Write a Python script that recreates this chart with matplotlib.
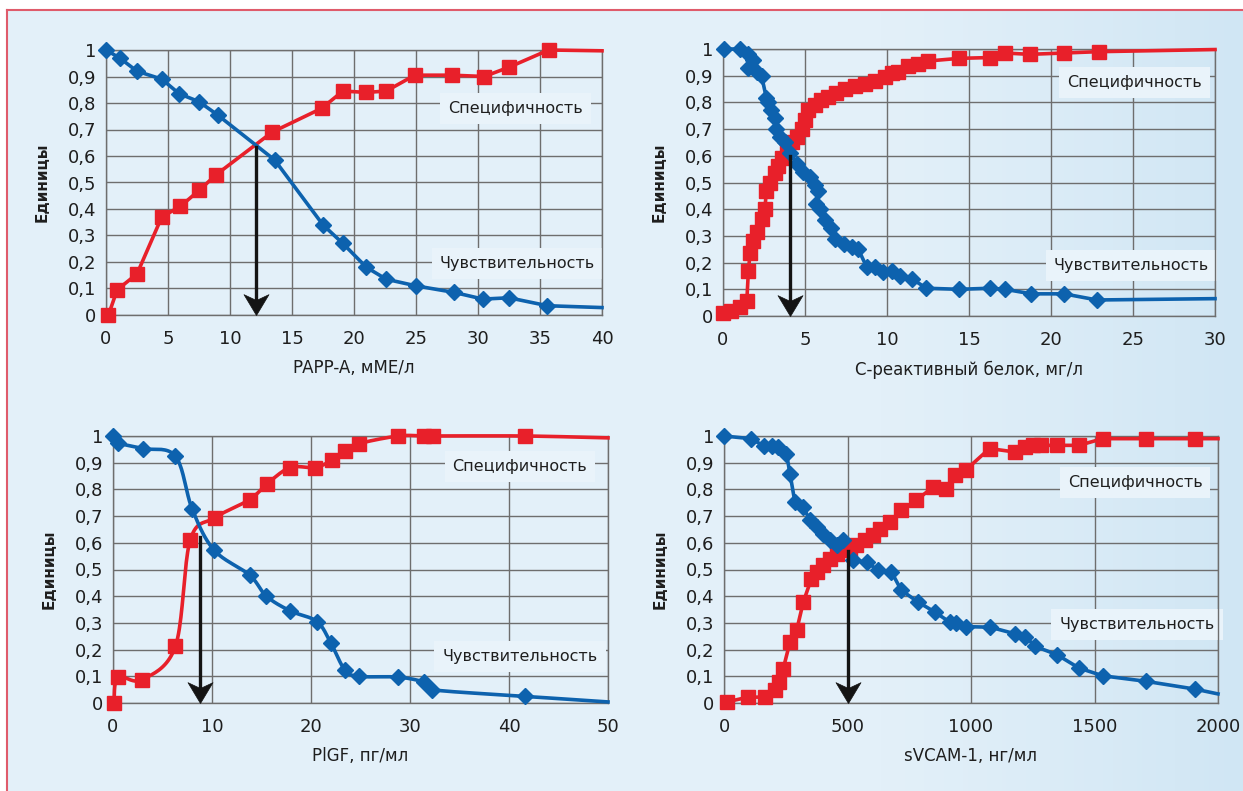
import numpy as np
import matplotlib
matplotlib.use('Agg')
import matplotlib.pyplot as plt
from matplotlib.lines import Line2D
from matplotlib.path import Path
from matplotlib.colors import LinearSegmentedColormap

# PAPP-A
papp_x_sens = [0, 1.1, 2.5, 4.5, 5.9, 7.5, 9.0, 13.6, 17.5, 19.1, 21.0, 22.6, 25.0, 28.1, 30.4, 32.5, 35.6, 40]
papp_sens = [1.0, 0.97, 0.92, 0.89, 0.835, 0.805, 0.755, 0.585, 0.34, 0.27, 0.18, 0.135, 0.11, 0.085, 0.06, 0.065, 0.035, 0.028]
papp_x_spec = [0.2, 0.9, 2.5, 4.5, 6.0, 7.5, 8.9, 13.4, 17.4, 19.1, 21.0, 22.6, 24.9, 27.9, 30.5, 32.5, 35.7, 40]
papp_spec = [0.0, 0.095, 0.155, 0.37, 0.41, 0.47, 0.53, 0.69, 0.78, 0.845, 0.84, 0.845, 0.905, 0.905, 0.9, 0.935, 1.0, 0.997]

# C-reactive protein
crp_x_sens = [0.05, 1.05, 1.5, 1.8, 1.55, 2.05, 2.35, 2.65, 2.75, 2.95, 3.15, 3.25, 3.5, 3.8, 4.1, 4.5,
              4.9, 5.3, 5.6, 5.8, 5.7, 5.9, 6.2, 6.6, 6.8, 7.35, 7.85, 8.25, 8.75, 9.25, 9.75, 10.3,
              10.8, 11.5, 12.4, 14.4, 16.3, 17.2, 18.8, 20.8, 22.8, 30]
crp_sens = [1.0, 1.0, 0.98, 0.96, 0.93, 0.915, 0.9, 0.815, 0.8, 0.77, 0.74, 0.7, 0.67, 0.65, 0.61, 0.57,
            0.54, 0.52, 0.49, 0.47, 0.42, 0.4, 0.36, 0.33, 0.29, 0.27, 0.26, 0.25, 0.185, 0.185, 0.165, 0.17,
            0.148, 0.14, 0.104, 0.1, 0.104, 0.1, 0.083, 0.083, 0.06, 0.065]
crp_x_spec = [0.0, 0.5, 1.05, 1.45, 1.55, 1.65, 1.85, 2.05, 2.35, 2.55, 2.65, 2.85, 3.15, 3.35, 3.6, 3.9,
              4.2, 4.5, 4.8, 5.0, 5.2, 5.6, 6.0, 6.4, 6.9, 7.45, 8.05, 8.65, 9.25, 9.9, 10.3, 10.7,
              11.3, 11.9, 12.5, 14.4, 16.3, 17.2, 18.7, 20.8, 22.9, 30]
crp_spec = [0.01, 0.02, 0.035, 0.055, 0.17, 0.235, 0.28, 0.315, 0.365, 0.4, 0.47, 0.5, 0.535, 0.56, 0.59, 0.62,
            0.65, 0.67, 0.7, 0.735, 0.77, 0.79, 0.81, 0.82, 0.835, 0.85, 0.86, 0.87, 0.88, 0.895, 0.91, 0.915,
            0.935, 0.945, 0.955, 0.965, 0.968, 0.985, 0.98, 0.985, 0.99, 0.998]

# PlGF
plgf_x_sens = [0, 0.5, 3.0, 6.3, 8.0, 10.2, 13.8, 15.5, 17.9, 20.6, 22.0, 23.4, 24.8, 28.8, 31.4, 32.2, 41.6, 50]
plgf_sens = [1.0, 0.975, 0.953, 0.925, 0.726, 0.573, 0.479, 0.4, 0.345, 0.305, 0.225, 0.125, 0.1, 0.097, 0.078, 0.05, 0.025, 0.004]
plgf_x_spec = [0.1, 0.5, 2.9, 6.3, 7.8, 10.3, 13.8, 15.6, 17.9, 20.4, 22.1, 23.4, 24.8, 28.8, 31.4, 32.3, 41.6, 50]
plgf_spec = [0.0, 0.097, 0.087, 0.212, 0.61, 0.694, 0.762, 0.822, 0.882, 0.882, 0.909, 0.944, 0.971, 1.0, 1.0, 1.0, 1.0, 0.993]

# sVCAM-1
svcam_x_sens = [0, 108, 162, 193, 220, 253, 267, 287, 321, 348, 375, 402, 429, 456, 482, 523, 577, 624, 678, 718,
                786, 853, 914, 941, 978, 1078, 1179, 1220, 1260, 1348, 1437, 1533, 1710, 1907, 2000]
svcam_sens = [1.0, 0.99, 0.963, 0.963, 0.959, 0.934, 0.859, 0.753, 0.734, 0.684, 0.659, 0.634, 0.609, 0.59, 0.609,
              0.534, 0.528, 0.497, 0.491, 0.422, 0.378, 0.341, 0.303, 0.3, 0.286, 0.284, 0.259, 0.249, 0.212,
              0.181, 0.131, 0.102, 0.081, 0.052, 0.034]
svcam_x_spec = [11, 98, 166, 206, 224, 240, 267, 294, 321, 354, 375, 402, 429, 456, 482, 509, 536, 570, 604, 631,
                671, 718, 779, 846, 900, 934, 978, 1075, 1179, 1220, 1252, 1284, 1348, 1437, 1533, 1710, 1907, 2000]
svcam_spec = [0.004, 0.022, 0.022, 0.047, 0.079, 0.129, 0.228, 0.272, 0.378, 0.466, 0.49, 0.516, 0.54, 0.559,
              0.572, 0.578, 0.59, 0.609, 0.628, 0.653, 0.678, 0.722, 0.759, 0.809, 0.803, 0.853, 0.872, 0.953,
              0.94, 0.959, 0.965, 0.965, 0.965, 0.965, 0.99, 0.99, 0.99, 0.99]

y_ticks = [0, 0.1, 0.2, 0.3, 0.4, 0.5, 0.6, 0.7, 0.8, 0.9, 1]
y_labels = ['0', '0,1', '0,2', '0,3', '0,4', '0,5', '0,6', '0,7', '0,8', '0,9', '1']

BLUE = '#0d62ae'
RED = '#e8202a'
GRID = '#6e6e6e'

# notched arrow head, tip at the marker origin
ARROW_HEAD = Path([(0, 0), (-0.6, 1.0), (0, 0.72), (0.6, 1.0), (0, 0)],
                  [Path.MOVETO, Path.LINETO, Path.LINETO, Path.LINETO, Path.CLOSEPOLY])


def catmull_rom(x, y, n=20):
    # smooth line through the points (like Excel "smoothed line")
    p = np.column_stack([x, y]).astype(float)
    p = np.vstack([p[0], p, p[-1]])
    out = []
    t = np.linspace(0, 1, n, endpoint=False)[:, None]
    for i in range(1, len(p) - 2):
        p0, p1, p2, p3 = p[i - 1], p[i], p[i + 1], p[i + 2]
        seg = 0.5 * ((2 * p1) + (-p0 + p2) * t + (2 * p0 - 5 * p1 + 4 * p2 - p3) * t ** 2
                     + (-p0 + 3 * p1 - 3 * p2 + p3) * t ** 3)
        out.append(seg)
    out.append(p[-2][None, :])
    out = np.vstack(out)
    return out[:, 0], out[:, 1]


def draw_panel(ax, xs, sens, xp, spec, xmax, xstep, xlabel, cut, cut_y,
               spec_pos, sens_pos, smooth=False):
    ax.set_facecolor('none')
    ax.set_xlim(0, xmax)
    ax.set_ylim(0, 1)
    ax.set_xticks(np.arange(0, xmax + xstep / 2, xstep))
    ax.set_yticks(y_ticks)
    ax.set_yticklabels(y_labels)
    ax.grid(True, color=GRID, lw=1.0, zorder=0)
    ax.set_axisbelow(True)
    for s in ax.spines.values():
        s.set_color(GRID)
        s.set_linewidth(1.0)
    ax.tick_params(length=0, labelsize=13, colors='#1e1e1e')
    ax.tick_params(axis='x', pad=11)
    ax.tick_params(axis='y', pad=7)
    ax.set_xlabel(xlabel, fontsize=12, color='#1e1e1e', labelpad=8)
    ax.set_ylabel('Единицы', fontsize=11, fontweight='bold', color='#1e1e1e', labelpad=13)

    box = dict(boxstyle='square,pad=0.5', fc='#e9f3fa', ec='none')
    ax.text(spec_pos[0], spec_pos[1], 'Специфичность', fontsize=11.5, ha='center', va='center',
            color='#1e1e1e', bbox=box, zorder=2)
    ax.text(sens_pos[0], sens_pos[1], 'Чувствительность', fontsize=11.5, ha='center', va='center',
            color='#1e1e1e', bbox=box, zorder=2)

    for x, y, col, mk, ms in [(xp, spec, RED, 's', 10), (xs, sens, BLUE, 'D', 8)]:
        if smooth:
            sx, sy = catmull_rom(x, y)
        else:
            sx, sy = x, y
        ax.plot(sx, sy, color=col, lw=2.6, zorder=3, clip_on=False, solid_joinstyle='round')
        ax.plot(x[:-1], y[:-1], ls='none', marker=mk, ms=ms, color=col, mec=col, zorder=4, clip_on=False)

    # cut-off arrow
    ax.plot([cut, cut], [cut_y, 0.04], color='#141414', lw=2.4, zorder=5)
    ax.plot([cut], [0], ls='none', marker=ARROW_HEAD, ms=30, color='#141414', mec='#141414',
            mew=0.5, zorder=5, clip_on=False)


fig = plt.figure(figsize=(12.43, 7.91), dpi=100, facecolor='white')

# light blue gradient background with pink frame lines
bg = fig.add_axes([7 / 1243, 0, 1 - 7 / 1243, 1 - 10 / 791], zorder=-10)
gx = np.linspace(0, 1, 256)
grad = np.tile(gx ** 2, (16, 1))
cmap = LinearSegmentedColormap.from_list('bg', ['#e3f0f9', '#e3f0f9', '#d0e6f4'])
bg.imshow(grad, aspect='auto', cmap=cmap, extent=[0, 1, 0, 1])
bg.set_axis_off()
fig.add_artist(Line2D([7 / 1243, 1], [1 - 10 / 791, 1 - 10 / 791], color='#df5b6b', lw=1.5))
fig.add_artist(Line2D([7 / 1243, 7 / 1243], [0, 1 - 10 / 791], color='#df5b6b', lw=1.5))

ax1 = fig.add_axes([106 / 1243, 1 - 315 / 791, 496 / 1243, 265 / 791])
ax2 = fig.add_axes([723 / 1243, 1 - 316 / 791, 492 / 1243, 267 / 791])
ax3 = fig.add_axes([113 / 1243, 1 - 703 / 791, 495 / 1243, 267 / 791])
ax4 = fig.add_axes([724 / 1243, 1 - 703 / 791, 494 / 1243, 267 / 791])

draw_panel(ax1, papp_x_sens, papp_sens, papp_x_spec, papp_spec, 40, 5, 'PAPP-A, мМЕ/л',
           12.1, 0.635, (33.0, 0.78), (33.2, 0.196))
draw_panel(ax2, crp_x_sens, crp_sens, crp_x_spec, crp_spec, 30, 5, 'С-реактивный белок, мг/л',
           4.1, 0.6, (25.1, 0.876), (24.9, 0.19))
draw_panel(ax3, plgf_x_sens, plgf_sens, plgf_x_spec, plgf_spec, 50, 10, 'PlGF, пг/мл',
           8.8, 0.62, (41.1, 0.887), (41.1, 0.173), smooth=True)
draw_panel(ax4, svcam_x_sens, svcam_sens, svcam_x_spec, svcam_spec, 2000, 500, 'sVCAM-1, нг/мл',
           500, 0.57, (1664, 0.827), (1672, 0.293))

fig.savefig('out.png', dpi=100, facecolor='white')
